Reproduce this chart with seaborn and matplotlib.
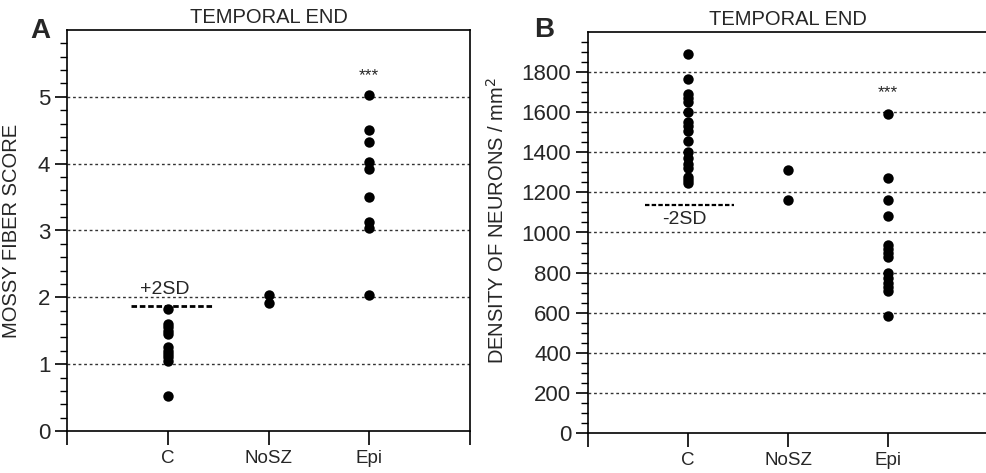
import matplotlib
matplotlib.use("Agg")
import matplotlib.pyplot as plt
import seaborn as sns
import pandas as pd
import numpy as np
from matplotlib.ticker import FixedLocator

sns.set_theme(style="white")
plt.rcParams['font.family'] = ['Liberation Sans', 'DejaVu Sans']

groups = ["C", "NoSZ", "Epi"]

# Panel A: mossy fiber score
mf_C = [0.52, 1.05, 1.1, 1.15, 1.2, 1.25, 1.45, 1.5, 1.55, 1.6, 1.83]
mf_NoSZ = [2.03, 1.91]
mf_Epi = [5.03, 4.5, 4.33, 4.03, 3.92, 3.5, 3.12, 3.03, 2.03]
mf_sd = 1.87
mf_ticks = [0, 1, 2, 3, 4, 5]

# Panel B: density of neurons / mm^2
dn_C = [1890, 1765, 1690, 1670, 1650, 1600, 1550, 1530, 1505, 1455,
        1400, 1370, 1340, 1320, 1275, 1260, 1245]
dn_NoSZ = [1313, 1162]
dn_Epi = [1590, 1270, 1160, 1080, 940, 920, 900, 880, 800, 775, 750,
          730, 710, 585]
dn_sd = 1139
dn_ticks = [0, 200, 400, 600, 800, 1000, 1200, 1400, 1600, 1800]

def make_df(c, n, e):
    return pd.DataFrame({
        "group": ["C"] * len(c) + ["NoSZ"] * len(n) + ["Epi"] * len(e),
        "value": list(c) + list(n) + list(e),
    })

fig = plt.figure(figsize=(9.86, 4.73), dpi=100)
axA = fig.add_axes([67/986, 1-431/473, 403/986, 401/473])
axB = fig.add_axes([588/986, 1-433/473, 400/986, 401/473])

def style_axis(ax, df, ylim, majors, minor_step, ylabel):
    sns.stripplot(data=df, x="group", y="value", order=groups, jitter=False,
                  color="black", size=7.5, linewidth=0, ax=ax)
    ax.set_xlim(-1, 3)
    ax.set_ylim(*ylim)
    for g in majors[1:]:
        ax.axhline(g, color="#333333", lw=1.0, ls=(0, (2, 2)), zorder=0)
    ax.set_xticks([-1, 0, 1, 2, 3])
    ax.set_xticklabels(["", "C", "NoSZ", "Epi", ""], fontsize=13.5)
    ax.yaxis.set_major_locator(FixedLocator(majors))
    ax.set_yticklabels([str(m) for m in majors])
    minors = [v for v in np.arange(0, ylim[1] - minor_step / 2, minor_step)
              if not any(abs(v - m) < 1e-6 for m in majors)]
    ax.yaxis.set_minor_locator(FixedLocator(minors))
    ax.tick_params(axis="y", which="major", direction="out", length=9,
                   width=1.2, labelsize=16, left=True, pad=3, color="black")
    ax.tick_params(axis="y", which="minor", direction="out", length=5,
                   width=1.0, left=True, color="black")
    ax.tick_params(axis="x", which="major", direction="out", length=10,
                   width=1.2, bottom=True, pad=4, color="black")
    for s in ax.spines.values():
        s.set_color("black")
        s.set_linewidth(1.2)
    ax.set_xlabel("")
    ax.set_ylabel(ylabel, fontsize=14.5)
    ax.set_title("TEMPORAL END", fontsize=14.5, pad=5)

dfA = make_df(mf_C, mf_NoSZ, mf_Epi)
style_axis(axA, dfA, (0, 6), mf_ticks, 0.2, "MOSSY FIBER SCORE")
axA.hlines(mf_sd, -0.36, 0.46, color="black", lw=2, ls=(0, (2, 1)))
axA.text(-0.03, mf_sd + 0.12, "+2SD", ha="center", va="bottom", fontsize=14)
axA.text(2, 5.32, "***", ha="center", va="center", fontsize=12.5)
axA.yaxis.set_label_coords(-0.115, 0.5)

dfB = make_df(dn_C, dn_NoSZ, dn_Epi)
style_axis(axB, dfB, (0, 2000), dn_ticks, 50, "DENSITY OF NEURONS / mm$^2$")
axB.hlines(dn_sd, -0.43, 0.46, color="black", lw=1.6, ls=(0, (2, 1)))
axB.text(-0.04, dn_sd - 30, "-2SD", ha="center", va="top", fontsize=14)
axB.text(2, 1700, "***", ha="center", va="center", fontsize=12.5)
axB.yaxis.set_label_coords(-0.2, 0.53)

fig.text(30/986, 1-44/473, "A", fontsize=20, fontweight="bold", ha="left", va="bottom")
fig.text(534/986, 1-43/473, "B", fontsize=20, fontweight="bold", ha="left", va="bottom")

fig.savefig("out.png", dpi=100)
